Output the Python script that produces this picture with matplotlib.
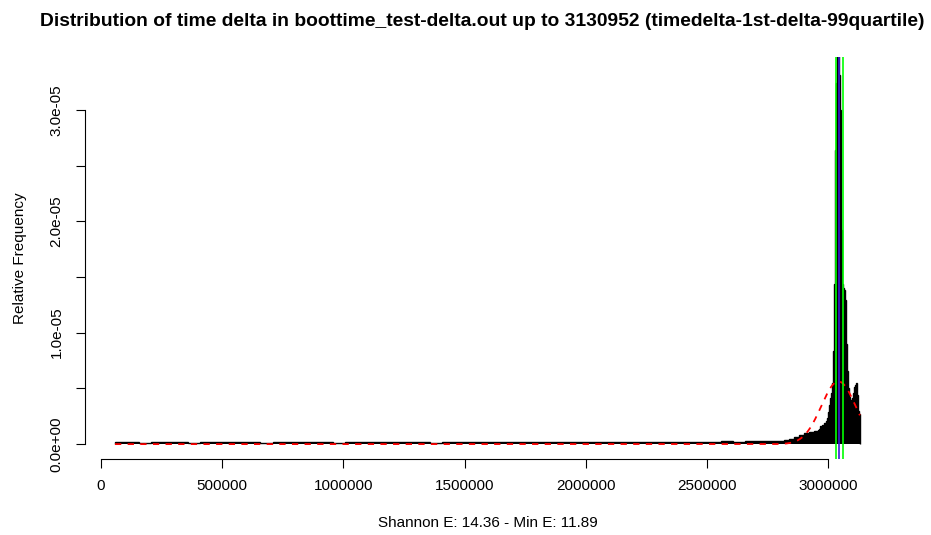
import numpy as np
import matplotlib
matplotlib.use('Agg')
import matplotlib.pyplot as plt

plt.rcParams['font.family'] = ['Liberation Sans', 'DejaVu Sans']

# histogram of time deltas (relative frequency)
hist_start = 57750
hist_end = 3130952
flat_end = 2757750      # long, almost empty part
mid_end = 2960000       # slow rise before the main peak

flat_heights = [1.6e-7, 2.2e-7, 1.4e-7, 1.7e-7, 1.5e-7, 1.9e-7, 1.3e-7, 1.8e-7, 1.6e-7, 2.3e-7,
                1.5e-7, 1.7e-7, 1.4e-7, 2.0e-7, 1.6e-7, 1.8e-7, 1.5e-7, 1.9e-7, 1.4e-7, 2.1e-7,
                1.6e-7, 1.7e-7, 1.5e-7, 2.2e-7, 1.6e-7, 1.8e-7, 1.4e-7, 1.9e-7, 1.7e-7, 1.5e-7,
                2.0e-7, 1.6e-7, 1.8e-7, 1.5e-7, 1.9e-7, 1.6e-7, 2.2e-7, 1.7e-7, 1.8e-7, 1.6e-7,
                2.0e-7, 1.7e-7, 1.9e-7, 1.8e-7, 2.1e-7, 1.7e-7, 2.0e-7, 1.9e-7, 2.3e-7, 2.0e-7,
                2.4e-7, 2.2e-7, 2.6e-7, 2.5e-7]
mid_heights = [2.6e-7, 3.0e-7, 2.8e-7, 3.6e-7, 4.8e-7, 6.0e-7, 7.8e-7, 9.6e-7, 1.1e-6, 1.2e-6]
peak_heights = [1.3e-6, 1.4e-6, 1.6e-6, 1.4e-6, 1.7e-6, 1.5e-6, 1.85e-6, 2.1e-6, 2.3e-6, 2.85e-6,
                3.5e-6, 4.1e-6, 4.6e-6, 5.45e-6, 8.4e-6, 1.44e-5, 2.64e-5, 3.24e-5, 3.6e-5, 3.55e-5,
                3.31e-5, 3.0e-5, 1.92e-5, 1.44e-5, 1.40e-5, 1.38e-5, 1.29e-5, 9.0e-6, 6.6e-6, 5.0e-6,
                4.2e-6, 4.0e-6, 3.8e-6, 4.1e-6, 4.6e-6, 5.1e-6, 5.3e-6, 5.5e-6, 4.4e-6, 3.0e-6,
                2.7e-6]

# fitted normal curve and the vertical markers
fit_mean = 3042500
fit_sd = 70900
green_lines = [3032000, 3061000]
blue_line = 3045800

title = ("Distribution of time delta in boottime_test-delta.out up to 3130952 "
         "(timedelta-1st-delta-99quartile)")
xlabel = "Shannon E: 14.36 - Min E: 11.89"
ylabel = "Relative Frequency"

edges = np.concatenate([
    np.linspace(hist_start, flat_end, len(flat_heights) + 1),
    np.linspace(flat_end, mid_end, len(mid_heights) + 1)[1:],
    np.linspace(mid_end, hist_end, len(peak_heights) + 1)[1:],
])
heights = np.array(flat_heights + mid_heights + peak_heights)

fig = plt.figure(figsize=(9.31, 5.35), dpi=100)
ax = fig.add_axes([0.0915, 0.1428, 0.8641, 0.7507])

ax.stairs(heights, edges, fill=True, color='black', baseline=0)
ax.stairs(heights, edges, fill=False, color='black', linewidth=1.0, baseline=0)

xs = np.linspace(hist_start, hist_end, 600)
dens = np.exp(-0.5 * ((xs - fit_mean) / fit_sd) ** 2) / (fit_sd * np.sqrt(2 * np.pi))
ax.plot(xs, dens, color='red', linestyle=(0, (3.5, 3.5)), linewidth=1.3)

for gx in green_lines:
    ax.axvline(gx, color='#00ff00', linewidth=1.2)
ax.axvline(blue_line, color='#3a1ed8', linewidth=1.2)

ax.set_xlim(-65178, 3253880)
ax.set_ylim(-1.3e-6, 3.474e-5)

for side in ['top', 'right']:
    ax.spines[side].set_visible(False)
ax.spines['left'].set_bounds(0, 3e-5)
ax.spines['bottom'].set_bounds(0, 3e6)

xticks = np.arange(0, 3000001, 500000)
ax.set_xticks(xticks)
ax.set_xticklabels([str(int(v)) for v in xticks])
yticks = np.arange(0, 3.01e-5, 0.5e-5)
ax.set_yticks(yticks)
ax.set_yticklabels(['0.0e+00', '', '1.0e-05', '', '2.0e-05', '', '3.0e-05'],
                   rotation=90, va='center')
ax.tick_params(axis='both', direction='out', length=6.5, width=0.8, labelsize=11)
ax.tick_params(axis='x', pad=8)
ax.tick_params(axis='y', pad=9)

fig.text(482 / 931, 1 - 21 / 535, title, fontsize=13.9, fontweight='bold',
         ha='center', va='center')
ax.set_xlabel(xlabel, fontsize=11, labelpad=17)
ax.set_ylabel(ylabel, fontsize=11, labelpad=16)

fig.savefig('out.png', dpi=100)
